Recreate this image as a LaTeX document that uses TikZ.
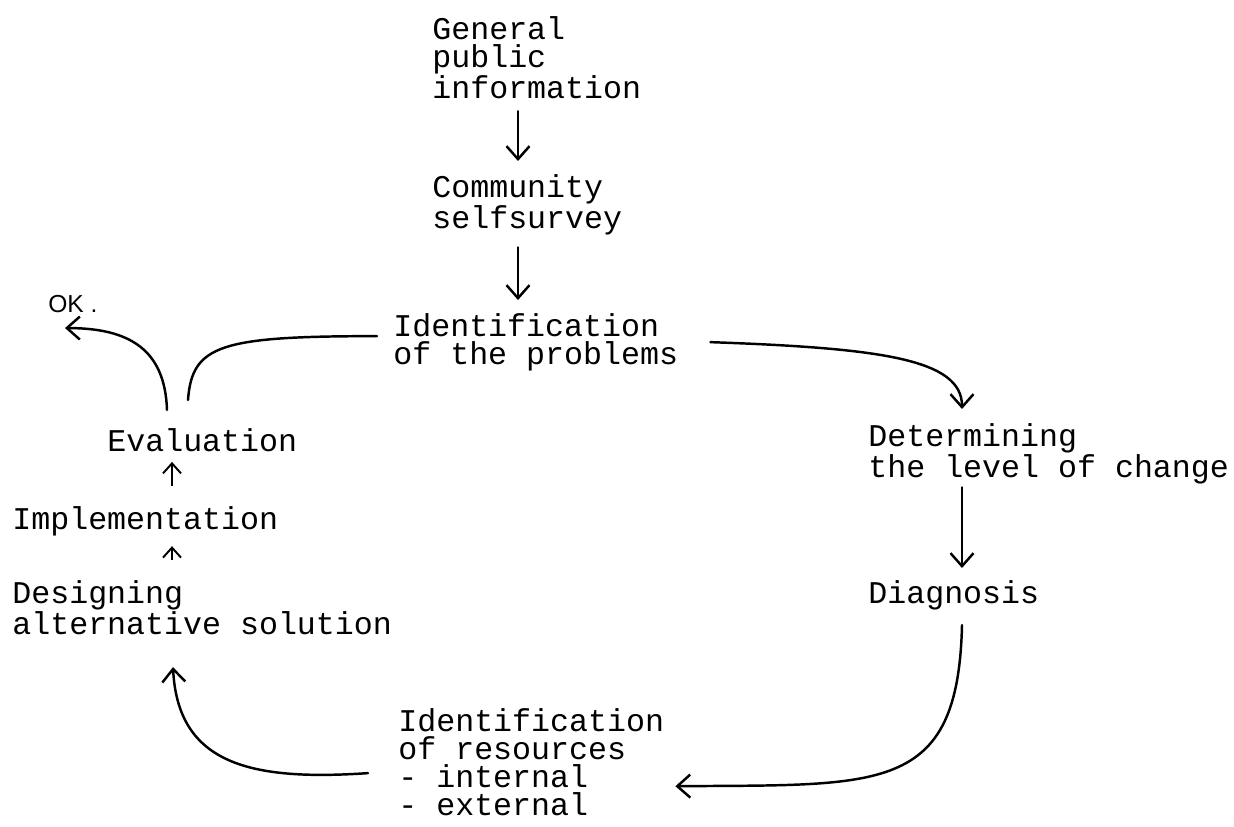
\documentclass[tikz,border=0pt]{standalone}
\usepackage{fontspec}
\setmainfont{Liberation Mono}
\newfontfamily\handfont{Liberation Sans}
\usetikzlibrary{arrows.meta,calc}

\begin{document}
\begin{tikzpicture}[x=0.02cm,y=-0.02cm,
  mytext/.style={anchor=north west,align=left,inner sep=0pt,font=\fontsize{18}{16}\selectfont},
  myarrow/.style={line width=1.4pt,line cap=round,-{Straight Barb[length=2.6mm,width=4.6mm]}},
  mytick/.style={line width=1.1pt,-{Straight Barb[length=2mm,width=3.6mm]}}]
\useasboundingbox (0,0) rectangle (1234,827);
\coordinate (mid) at (518,0);
\coordinate (rt) at (962,0);
\coordinate (up) at (172,0);
% the steps
\node[mytext] (gen) at (432,16) {General\\public\\information};
\node[mytext] (comm) at (432,174) {Community\\selfsurvey};
\node[mytext] (ident) at (393,313) {Identification\\of the problems};
\node[mytext] (det) at (868,423) {Determining\\the level of change};
\node[mytext] (diag) at (868,580) {Diagnosis};
\node[mytext] (res) at (398,708) {Identification\\of resources\\- internal\\- external};
\node[mytext] (eval) at (107,428) {Evaluation};
\node[mytext] (impl) at (12,506) {Implementation};
\node[mytext] (design) at (12,580) {Designing\\alternative solution};
\node[anchor=west,inner sep=0pt,font=\handfont\fontsize{14}{14}\selectfont] (ok) at (48,304) {OK .};
% straight arrows
\foreach \a/\b in {gen/comm,comm/ident}
  \draw[myarrow,shorten <=0.24cm,shorten >=0.26cm] (\a.south -| mid) -- (\b.north -| mid);
\draw[myarrow,shorten <=0.06cm,shorten >=0.24cm] (det.south -| rt) -- (diag.north -| rt);
\foreach \lo/\hi in {design/impl,impl/eval}
  \draw[mytick,shorten <=0.4cm,shorten >=0.2cm] (\lo.north -| up) -- (\hi.south -| up);
% curved arrows
\draw[myarrow,shorten >=0.28cm] ($(ident.east)+(32,0)$) .. controls +(170,6) and +(0,-64) .. (det.north -| rt);
\draw[myarrow] ($(diag.south -| rt)+(0,15)$) .. controls +(-4,170) and +(205,-2) .. ($(res.south east)+(11,-30)$);
\draw[myarrow] ($(res.west)+(-30,11)$) .. controls +(-118,8) and +(5,97) .. ($(design.south -| up)+(1,32)$);
\draw[line width=1.4pt,line cap=round] ($(eval.north -| up)+(16,-28)$) .. controls +(4,-55) and +(-157,0) .. ($(ident.west)+(-16,-6)$);
\draw[myarrow] ($(eval.north -| up)+(-5,-18)$) .. controls +(-2,-60) and +(65,0) .. ($(ok.south west)+(17,15)$);
\end{tikzpicture}
\end{document}
